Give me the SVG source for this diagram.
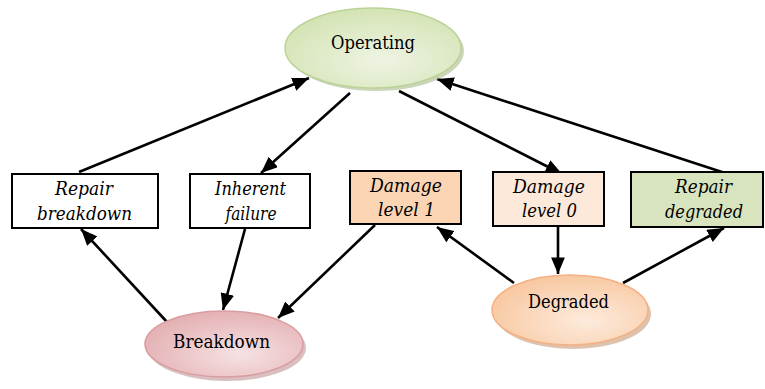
<svg xmlns="http://www.w3.org/2000/svg" width="765" height="389" viewBox="0 0 765 389">
<defs>
<radialGradient id="gOp" cx="0.55" cy="0.65" r="0.7"><stop offset="0" stop-color="#eef4e3"/><stop offset="1" stop-color="#d2e2b0"/></radialGradient>
<radialGradient id="gBr" cx="0.6" cy="0.65" r="0.7"><stop offset="0" stop-color="#f6e2e3"/><stop offset="1" stop-color="#e3adb0"/></radialGradient>
<radialGradient id="gDg" cx="0.6" cy="0.65" r="0.7"><stop offset="0" stop-color="#fdebdd"/><stop offset="1" stop-color="#f8c69d"/></radialGradient>
<marker id="ah" viewBox="0 0 12 10" refX="12" refY="5" markerWidth="6.4" markerHeight="5.3" markerUnits="strokeWidth" orient="auto"><path d="M0,0 L12,5 L0,10 Z" fill="#000"/></marker>
</defs>
<style>
.box{stroke:#000;stroke-width:2}
.bt{font-family:"DejaVu Serif","Liberation Serif",serif;font-style:italic;font-size:18.5px;text-anchor:middle;fill:#000}
.et{font-family:"DejaVu Serif","Liberation Serif",serif;font-size:18.5px;text-anchor:middle;fill:#000}
.c{stroke:#000;stroke-width:2.6;fill:none;marker-end:url(#ah)}
</style>
<g id="connectors">
<line class="c" x1="79" y1="172" x2="309" y2="78"/>
<line class="c" x1="350" y1="93" x2="261" y2="173"/>
<line class="c" x1="399" y1="91" x2="562" y2="174"/>
<line class="c" x1="725" y1="173" x2="437" y2="79"/>
<line class="c" x1="167" y1="322" x2="81" y2="229"/>
<line class="c" x1="245" y1="229" x2="223" y2="310"/>
<line class="c" x1="375" y1="225" x2="278" y2="318"/>
<line class="c" x1="514" y1="283" x2="437" y2="227"/>
<line class="c" x1="558" y1="227" x2="558" y2="274"/>
<line class="c" x1="623" y1="283" x2="724" y2="228"/>
</g>
<g id="operating">
<ellipse cx="376" cy="51" rx="88" ry="40" fill="#a9b98c" opacity="0.6"/>
<ellipse cx="373" cy="48" rx="88" ry="40" fill="url(#gOp)" stroke="#bcd397" stroke-width="1.5"/>
<text class="et" x="373" y="49" textLength="84" lengthAdjust="spacingAndGlyphs">Operating</text>
</g>
<g id="repair-breakdown">
<rect class="box" x="12" y="174" width="146" height="54" fill="#fff"/>
<text class="bt" x="84" y="195" textLength="58" lengthAdjust="spacingAndGlyphs">Repair</text>
<text class="bt" x="84.5" y="220" textLength="95" lengthAdjust="spacingAndGlyphs">breakdown</text>
</g>
<g id="inherent-failure">
<rect class="box" x="190" y="174" width="120" height="54" fill="#fff"/>
<text class="bt" x="250.5" y="195" textLength="71" lengthAdjust="spacingAndGlyphs">Inherent</text>
<text class="bt" x="251" y="220" textLength="51" lengthAdjust="spacingAndGlyphs">failure</text>
</g>
<g id="damage-level-1">
<rect class="box" x="350" y="171" width="111" height="53" fill="#fbd4b4"/>
<text class="bt" x="406" y="192" textLength="72" lengthAdjust="spacingAndGlyphs">Damage</text>
<text class="bt" x="406.5" y="216" textLength="57" lengthAdjust="spacingAndGlyphs">level 1</text>
</g>
<g id="damage-level-0">
<rect class="box" x="493" y="172" width="111" height="54" fill="#fde9d9"/>
<text class="bt" x="549" y="193" textLength="72" lengthAdjust="spacingAndGlyphs">Damage</text>
<text class="bt" x="549.5" y="217" textLength="55" lengthAdjust="spacingAndGlyphs">level 0</text>
</g>
<g id="repair-degraded">
<rect class="box" x="631" y="172" width="132" height="55" fill="#d7e4bd"/>
<text class="bt" x="703.5" y="193" textLength="57" lengthAdjust="spacingAndGlyphs">Repair</text>
<text class="bt" x="704" y="218" textLength="78" lengthAdjust="spacingAndGlyphs">degraded</text>
</g>
<g id="breakdown">
<ellipse cx="227" cy="348" rx="79" ry="33" fill="#b98a8c" opacity="0.55"/>
<ellipse cx="224" cy="344" rx="79" ry="33" fill="url(#gBr)" stroke="#d99ca0" stroke-width="1.5"/>
<text class="et" x="221.5" y="348" textLength="97" lengthAdjust="spacingAndGlyphs">Breakdown</text>
</g>
<g id="degraded">
<ellipse cx="573" cy="314" rx="78" ry="35" fill="#c79a78" opacity="0.6"/>
<ellipse cx="570" cy="310" rx="78" ry="35" fill="url(#gDg)" stroke="#f4b183" stroke-width="1.5"/>
<text class="et" x="568.5" y="308" textLength="81" lengthAdjust="spacingAndGlyphs">Degraded</text>
</g>
</svg>
